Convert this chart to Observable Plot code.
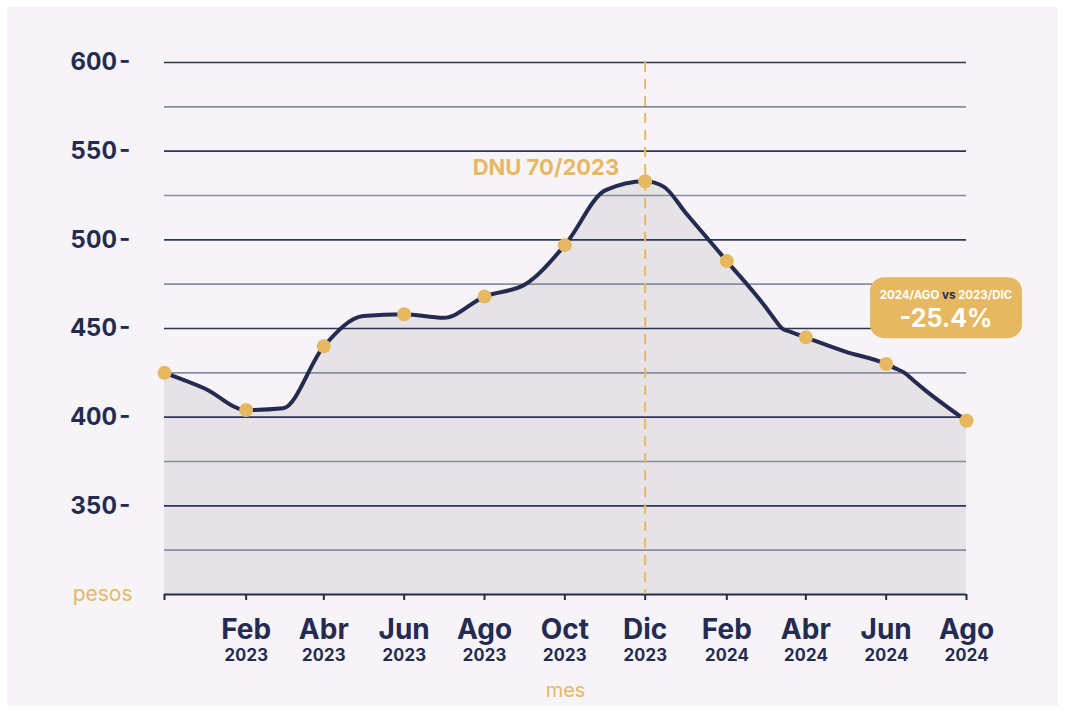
<!DOCTYPE html>
<html>
<head>
<meta charset="utf-8">
<script src="https://cdn.jsdelivr.net/npm/d3@7"></script>
<script src="https://cdn.jsdelivr.net/npm/@observablehq/plot@0.6"></script>
<style>
  html, body { margin: 0; padding: 0; background: #ffffff; }
  #wrap { position: absolute; left: 7px; top: 7px; }
</style>
</head>
<body>
<div id="wrap"></div>
<script>
// ---- data ----
const lineDates = ["2022-12-01","2023-01-01","2023-02-01","2023-03-01","2023-04-01","2023-05-01","2023-06-01","2023-07-01","2023-08-01","2023-09-01","2023-10-01","2023-11-01","2023-12-01","2023-12-15","2024-01-01","2024-02-01","2024-03-01","2024-03-07","2024-03-14","2024-03-21","2024-04-01","2024-05-01","2024-06-01","2024-06-08","2024-06-15","2024-06-22","2024-07-01","2024-08-01"];
const lineValues = [425,416,404,405,440,457,458,456,468,475,497,528,533,530,515,488,462.5,456.5,450,448,445,437,430,427.5,425,420.5,415,398];
const dotDates = ["2022-12-01","2023-02-01","2023-04-01","2023-06-01","2023-08-01","2023-10-01","2023-12-01","2024-02-01","2024-04-01","2024-06-01","2024-08-01"];
const dotValues = [425,404,440,458,468,497,533,488,445,430,398];
const tickDates = dotDates;
const tickMonths = ["","Feb","Abr","Jun","Ago","Oct","Dic","Feb","Abr","Jun","Ago"];
const tickYears = ["","2023","2023","2023","2023","2023","2023","2024","2024","2024","2024"];
const yTickValues = [350,400,450,500,550,600];
const gridValues = [325,350,375,400,425,450,475,500,525,550,575,600];
const eventDate = "2023-12-01";
const eventLabel = "DNU 70/2023";
const badgeTop = ["2024/AGO ", "vs", " 2023/DIC"];
const badgeValue = "-25.4%";
const yLabel = "pesos";
const xLabel = "mes";

// ---- styling ----
const NAVY = "#252b50";
const GOLD = "#e7b862";
const FONT = "Inter, 'Open Sans', sans-serif";

const line = lineDates.map((d, i) => ({date: new Date(d), value: lineValues[i]}));
const dots = dotDates.map((d, i) => ({date: new Date(d), value: dotValues[i]}));
const ticks = tickDates.map((d, i) => ({date: new Date(d), month: tickMonths[i], year: tickYears[i]}));
const monthOf = new Map(ticks.map(t => [+t.date, t.month]));
const yearOf = new Map(ticks.map(t => [+t.date, t.year]));
const tickDateObjs = ticks.map(t => t.date);
const xDomain = [line[0].date, line[line.length - 1].date];
const eventPoint = dots.find(d => +d.date === +new Date(eventDate));
const lastPoint = dots[dots.length - 1];

function badge(index, scales, values, dimensions) {
  const x = scales.x(lastPoint.date) - 20;
  const y = scales.y(lastPoint.value) - 112;
  const g = d3.create("svg:g");
  g.append("rect")
    .attr("x", x - 76).attr("y", y - 31)
    .attr("width", 152).attr("height", 61)
    .attr("rx", 14).attr("ry", 14)
    .attr("fill", GOLD);
  const t = g.append("text")
    .attr("x", x).attr("y", y - 12)
    .attr("text-anchor", "middle")
    .attr("font-family", FONT)
    .attr("font-weight", 700)
    .attr("font-size", 11.5)
    .attr("dominant-baseline", "middle");
  t.append("tspan").attr("fill", "#ffffff").text(badgeTop[0]);
  t.append("tspan").attr("fill", NAVY).text(badgeTop[1]);
  t.append("tspan").attr("fill", "#ffffff").text(badgeTop[2]);
  g.append("text")
    .attr("x", x).attr("y", y + 12)
    .attr("text-anchor", "middle")
    .attr("dominant-baseline", "middle")
    .attr("font-family", FONT)
    .attr("font-weight", 700)
    .attr("font-size", 25)
    .attr("fill", "#ffffff")
    .text(badgeValue);
  return g.node();
}

const chart = Plot.plot({
  width: 1051,
  height: 699,
  marginLeft: 157,
  marginRight: 92,
  marginTop: 55,
  marginBottom: 112,
  style: {background: "#f6f4f7", fontFamily: FONT, overflow: "visible"},
  x: {type: "utc", domain: xDomain},
  y: {domain: [300, 600]},
  marks: [
    Plot.areaY(line, {x: "date", y1: 300, y2: "value", fill: "#e5e3e6", curve: "monotone-x"}),
    Plot.ruleY(gridValues, {y: d => d, stroke: d => d % 50 === 0 ? NAVY : "#7e8298", strokeWidth: 1.6, strokeOpacity: d => d % 50 === 0 ? 0.95 : 0.9}),
    Plot.ruleY([300], {stroke: NAVY, strokeWidth: 2}),
    Plot.axisX({ticks: tickDateObjs, tickSize: 6, tickFormat: () => "", stroke: NAVY, strokeWidth: 2}),
    Plot.axisX({ticks: tickDateObjs, tickSize: 0, tickPadding: 25, tickFormat: d => monthOf.get(+d), fontSize: 28, fontWeight: 700, fill: NAVY, label: null}),
    Plot.axisX({ticks: tickDateObjs, tickSize: 0, tickPadding: 54, tickFormat: d => yearOf.get(+d), fontSize: 17, fontWeight: 700, fill: NAVY, label: null}),
    Plot.axisY({ticks: yTickValues, tickSize: 0, tickPadding: 32, tickFormat: d => d + "-", fontSize: 24, fontWeight: 700, fill: NAVY, label: null}),
    Plot.text([yLabel], {x: () => xDomain[0], y: () => 300, text: d => d, dx: -32, textAnchor: "end", fill: GOLD, fontSize: 21, fontWeight: 400}),
    Plot.text([xLabel], {frameAnchor: "bottom", text: d => d, dy: 96, lineAnchor: "middle", fill: GOLD, fontSize: 20, fontWeight: 400}),
    Plot.ruleX([new Date(eventDate)], {stroke: GOLD, strokeWidth: 2, strokeDasharray: "10,7"}),
    Plot.line(line, {x: "date", y: "value", stroke: NAVY, strokeWidth: 4, curve: "monotone-x"}),
    Plot.dot(dots, {x: "date", y: "value", r: 7, fill: GOLD, stroke: "none"}),
    Plot.text([eventPoint], {x: "date", y: "value", text: () => eventLabel, dx: -26, dy: -13, textAnchor: "end", fill: GOLD, fontSize: 22, fontWeight: 700}),
    badge
  ]
});
document.getElementById("wrap").appendChild(chart);
</script>
</body>
</html>
